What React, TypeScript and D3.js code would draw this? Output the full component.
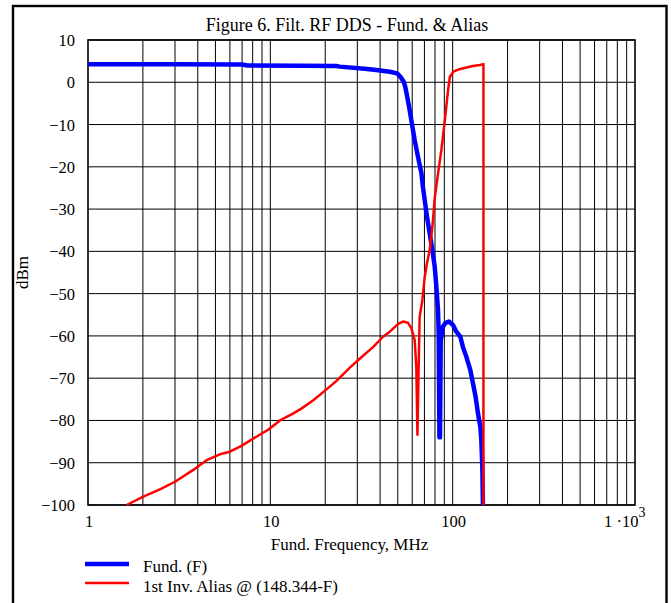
import React from 'react';
import * as d3 from 'd3';

// Fund. (F) trace
const fundFreq = [1, 3, 7, 7.5, 15, 23, 24, 33, 38.1, 45.2, 49.6, 51.7, 53.9, 54.9, 56.1, 58.1, 60.2, 61.9, 64.5, 67.4, 68.8, 72.3, 74.8, 77.4, 79.7, 81.4, 83.1, 83.8, 84.6, 85.2, 86.0, 86.7, 88.5, 91.5, 95.4, 100.4, 104.7, 110.2, 113.8, 118.8, 125, 129.2, 133.6, 137.6, 141.9, 143.6, 145.4, 146.6];
const fundDb = [4.25, 4.25, 4.2, 3.95, 3.9, 3.85, 3.7, 3.2, 2.9, 2.5, 2.1, 1.3, 0.1, -1.0, -3.0, -6.6, -10.6, -13.7, -17.6, -21.5, -25, -31.8, -35.7, -39.7, -43.6, -48.4, -53.9, -59.4, -84, -84, -61, -60.2, -57.8, -56.9, -56.6, -57.4, -59.0, -60.2, -62.6, -64.9, -68.1, -71.2, -74.4, -78.3, -81.5, -84.6, -90.9, -100];

// 1st inverted alias @ (148.344 - F)
const aliasFreq = [1.63, 2.01, 2.48, 3.0, 3.78, 4.47, 5.29, 6.0, 6.95, 8.05, 9.73, 11.3, 13.3, 14.8, 17.2, 19.5, 23.0, 27.3, 30.9, 36.7, 41.5, 45.2, 50.1, 53.4, 56.9, 59.4, 61.9, 63.2, 64.1, 64.9, 65.9, 68.2, 70.3, 72.3, 74.8, 77.4, 79.7, 83.2, 86.7, 90.2, 94.4, 96.5, 100.9, 109, 119, 129, 141, 147.5, 147.5];
const aliasDb = [-100, -98.0, -96.3, -94.5, -91.7, -89.4, -88.0, -87.4, -86.0, -84.3, -82.2, -80.0, -78.4, -77.2, -75.2, -73.3, -70.7, -67.5, -65.4, -62.6, -60.2, -59.0, -57.2, -56.6, -56.9, -58.2, -61.0, -67.5, -83.4, -70, -55.5, -51.5, -46.0, -42.8, -39.7, -34.2, -27.5, -21.5, -16.0, -9.7, -1.8, 1.3, 2.5, 3.1, 3.5, 3.85, 4.1, 4.3, -100];

const yTicks = [10, 0, -10, -20, -30, -40, -50, -60, -70, -80, -90, -100];
const xDecadeLabels = [1, 10, 100];

const title = 'Figure 6. Filt. RF DDS - Fund. & Alias';
const xTitle = 'Fund. Frequency, MHz';
const yTitle = 'dBm';
const legendLabels = ['Fund. (F)', '1st Inv. Alias @ (148.344-F)'];

const W = 671;
const H = 603;
const margin = { left: 88, right: 36, top: 40, bottom: 98 };
const FONT = '"Liberation Serif", "Times New Roman", serif';

export default function App() {
  const x = d3.scaleLog().domain([1, 1000]).range([margin.left, W - margin.right]);
  const y = d3.scaleLinear().domain([-100, 10]).range([H - margin.bottom, margin.top]);

  const gridX: number[] = [];
  for (let dec = 1; dec < 1000; dec *= 10) {
    for (let k = 2; k <= 9; k++) gridX.push(k * dec);
  }
  gridX.push(10, 100);

  const line = d3.line<[number, number]>()
    .x(d => x(d[0]))
    .y(d => y(d[1]));

  const fundPath = line(fundFreq.map((f, i) => [f, fundDb[i]] as [number, number])) || '';
  const aliasPath = line(aliasFreq.map((f, i) => [f, aliasDb[i]] as [number, number])) || '';

  const x0 = x.range()[0];
  const x1 = x.range()[1];
  const y0 = y.range()[0];
  const y1 = y.range()[1];

  return (
    <div style={{ position: 'absolute', left: 0, top: 0 }}>
      <svg width={W} height={H} style={{ display: 'block', background: 'white' }} fontFamily={FONT}>
        {/* outer frame */}
        <rect x={13} y={6} width={653.5} height={H + 20} fill="none" stroke="black" strokeWidth={2.4} />

        <text x={347} y={31} textAnchor="middle" fontSize={18}>{title}</text>

        {/* grid */}
        {gridX.map(v => (
          <line key={'gx' + v} x1={x(v)} x2={x(v)} y1={y1} y2={y0} stroke="black" strokeWidth={1} />
        ))}
        {yTicks.map(v => (
          <line key={'gy' + v} x1={x0} x2={x1} y1={y(v)} y2={y(v)} stroke="black" strokeWidth={1} />
        ))}
        <rect x={x0} y={y1} width={x1 - x0} height={y0 - y1} fill="none" stroke="black" strokeWidth={1.6} />

        {/* y tick labels */}
        {yTicks.map(v => (
          <text key={'ty' + v} x={75} y={y(v) + 6} textAnchor="end" fontSize={16.5}>
            {v < 0 ? '\u2212' + Math.abs(v) : String(v)}
          </text>
        ))}

        {/* x tick labels */}
        {xDecadeLabels.map(v => (
          <text key={'tx' + v} x={x(v) + 1} y={527} textAnchor="middle" fontSize={16.5}>{v}</text>
        ))}
        <text x={604} y={527} fontSize={16.5}>
          1 {'\u00b7'}10
          <tspan dy={-10} fontSize={14}>3</tspan>
        </text>

        <text x={349.5} y={550} textAnchor="middle" fontSize={17}>{xTitle}</text>
        <text
          x={0}
          y={0}
          transform={`translate(28, ${(y0 + y1) / 2}) rotate(-90)`}
          textAnchor="middle"
          fontSize={17}
        >
          {yTitle}
        </text>

        {/* data */}
        <path d={fundPath} fill="none" stroke="#0000ff" strokeWidth={4.5} strokeLinejoin="round" />
        <path d={aliasPath} fill="none" stroke="#ff0000" strokeWidth={2.5} strokeLinejoin="round" />

        {/* legend */}
        <line x1={85} x2={129} y1={564} y2={564} stroke="#0000ff" strokeWidth={4.5} />
        <text x={143} y={572} fontSize={17}>{legendLabels[0]}</text>
        <line x1={85} x2={129} y1={583} y2={583} stroke="#ff0000" strokeWidth={2.5} />
        <text x={143} y={592} fontSize={17}>{legendLabels[1]}</text>
      </svg>
    </div>
  );
}
